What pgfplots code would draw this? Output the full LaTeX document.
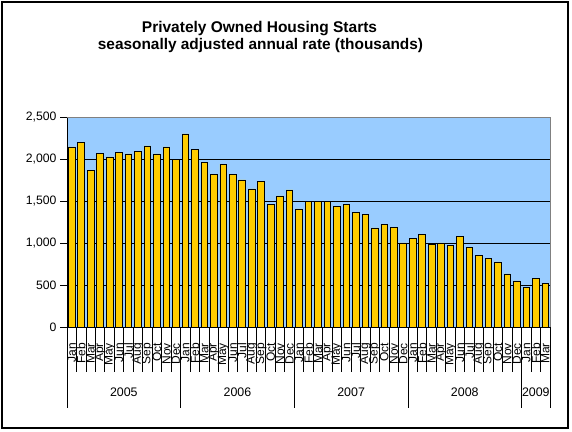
\documentclass[border=0pt]{standalone}
\usepackage{pgfplots}
\pgfplotsset{compat=1.18}
\usepackage{fontspec}
\setmainfont{Liberation Sans}
\definecolor{plotbg}{HTML}{99CCFF}
\definecolor{bargold}{HTML}{FFCC00}
\begin{document}
\begin{tikzpicture}
\useasboundingbox (0pt,0pt) rectangle (572pt,431pt);
\fill[white] (0pt,0pt) rectangle (572pt,431pt);
\begin{axis}[
  at={(67pt,104pt)}, anchor=south west,
  scale only axis, width=483pt, height=210pt,
  xmin=-0.5, xmax=50.5, ymin=0, ymax=2500,
  enlargelimits=false,
  axis background/.style={fill=plotbg},
  axis x line*=bottom, axis y line*=left,
  axis line style={-, black, line width=0.8pt},
  ytick={0,500,...,2500},
  ymajorgrids, major grid style={black, line width=0.8pt},
  tick align=outside, major tick length=7pt,
  tick style={black, line width=0.8pt},
  major x tick style=transparent,
  /pgf/number format/assume math mode=true,
  /pgf/number format/1000 sep={,},
  yticklabel style={font=\fontsize{12.2}{12}\selectfont},
  xtick={0,...,50},
  xticklabels={Jan,Feb,Mar,Apr,May,Jun,Jul,Aug,Sep,Oct,Nov,Dec,
               Jan,Feb,Mar,Apr,May,Jun,Jul,Aug,Sep,Oct,Nov,Dec,
               Jan,Feb,Mar,Apr,May,Jun,Jul,Aug,Sep,Oct,Nov,Dec,
               Jan,Feb,Mar,Apr,May,Jun,Jul,Aug,Sep,Oct,Nov,Dec,
               Jan,Feb,Mar},
  xticklabel style={font=\fontsize{12}{12}\selectfont, rotate=90, anchor=east, inner sep=0pt, xshift=-9pt},
]
\addplot[ybar, bar width=0.7, fill=bargold, draw=black, line width=0.8pt] coordinates {
(0,2143) (1,2202) (2,1869) (3,2063) (4,2024) (5,2075) (6,2060) (7,2095) (8,2155) (9,2060) (10,2143) (11,1992)
(12,2298) (13,2119) (14,1964) (15,1821) (16,1940) (17,1821) (18,1750) (19,1643) (20,1730) (21,1464) (22,1560) (23,1631)
(24,1405) (25,1492) (26,1492) (27,1492) (28,1440) (29,1464) (30,1369) (31,1345) (32,1179) (33,1226) (34,1190) (35,1000)
(36,1059) (37,1107) (38,988) (39,1000) (40,976) (41,1083) (42,952) (43,857) (44,821) (45,774) (46,631) (47,548)
(48,476) (49,583) (50,516)
};
\end{axis}
% gray plot-area border (top, right)
\draw[color=black!50, line width=0.8pt] (67pt,314pt) -- (550pt,314pt) -- (550pt,104pt);
% month separators
\foreach \i in {0,...,51} {
  \pgfmathsetmacro{\xx}{67+\i*9.470588}
  \draw[black, line width=0.8pt] (\xx pt,104pt) -- (\xx pt,59pt);
}
% year separators
\foreach \i in {0,12,24,36,48,51} {
  \pgfmathsetmacro{\xx}{67+\i*9.470588}
  \draw[black, line width=0.8pt] (\xx pt,104pt) -- (\xx pt,23pt);
}
% year labels
\foreach \s/\n/\lab in {0/12/2005,12/12/2006,24/12/2007,36/12/2008,48/3/2009} {
  \pgfmathsetmacro{\xx}{67+(\s+\n/2)*9.470588}
  \node[font=\fontsize{12.4}{12}\selectfont, inner sep=0pt] at (\xx pt,39pt) {\lab};
}
% titles
\node[anchor=base, font=\fontsize{15.5}{18}\selectfont\bfseries, inner sep=0pt] at (259.5pt,398.3pt) {Privately Owned Housing Starts};
\node[anchor=base, font=\fontsize{15.4}{18}\selectfont\bfseries, inner sep=0pt] at (260.5pt,381pt) {seasonally adjusted annual rate (thousands)};
% outer frame
\draw[black, line width=1.3pt] (2pt,3pt) rectangle (568pt,429pt);
\end{tikzpicture}
\end{document}
